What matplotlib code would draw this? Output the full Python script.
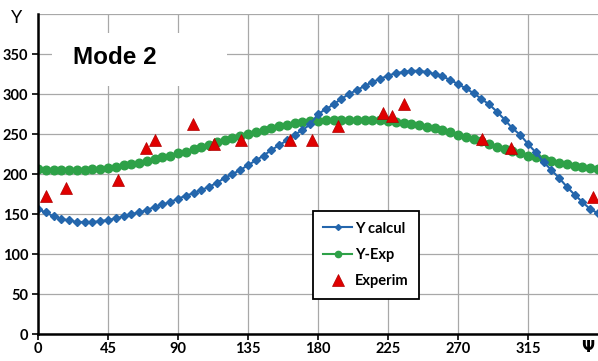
import matplotlib
matplotlib.use("Agg")
import matplotlib.pyplot as plt
from matplotlib.patches import Rectangle

plt.rcParams['font.family'] = ['Lato', 'DejaVu Sans']

psi = list(range(0, 365, 5))
y_calcul = [156, 152, 147, 144, 142, 140, 140, 140, 141, 142.5, 144.5, 147, 150, 152, 155,
            159, 162, 165, 169, 173, 176, 180, 184, 189, 195, 200, 205, 211, 217, 223, 230,
            236, 242, 249, 255, 262, 275, 281, 287, 294, 300, 305, 310, 315, 319, 323, 326,
            327.5, 329, 329, 327.5, 325, 322, 317.5, 312.5, 307, 301, 294, 287, 278, 268,
            257, 249, 237.5, 227, 215, 205, 195, 184, 174, 165, 156, 151]
y_exp = [206, 205.4, 205, 204.6, 204.6, 205, 205.4, 206, 206.7, 207.5, 209, 211, 212.5, 214,
         216, 219, 221, 223, 226, 228, 231, 234, 236.7, 239.6, 242.5, 245, 248, 250.4, 253,
         255, 257.5, 259.6, 261.7, 263.3, 264.6, 265.8, 266.7, 267, 267.5, 267.6, 268, 268,
         267.6, 267.5, 267, 266, 265, 263.5, 262.5, 261, 259, 257, 254.6, 252, 249, 246.7,
         243.8, 240.8, 237.5, 234, 231.7, 228.7, 225.8, 223, 220.8, 218.7, 216, 214, 212,
         210.4, 209, 208, 206.7]
exp_psi = [4.9, 18, 51.4, 69.6, 75.2, 99.9, 113, 130.3, 162, 176.4, 192.7, 222, 227.4,
           235.5, 285.6, 303.9, 357]
exp_y = [172.5, 183, 192.5, 233, 243, 263, 238, 242.5, 242.5, 242.5, 260.4, 276.7, 272.5,
         287, 243.7, 233, 171]

x_ticks = [0, 45, 90, 135, 180, 225, 270, 315]
y_ticks = [0, 50, 100, 150, 200, 250, 300, 350]

fig = plt.figure(figsize=(5.98, 3.61), dpi=100)
ax = fig.add_axes([38/598, 1-334/361, 560/598, 320/361])

blue = '#2466AC'
green = '#2EA148'
red = '#E00000'

ax.plot(psi, y_calcul, color=blue, marker='D', markersize=4.5, lw=1.5, label='Y calcul',
        zorder=4)
ax.plot(psi, y_exp, color=green, marker='o', markersize=6.2, lw=1.5, label='Y-Exp', zorder=3)
ax.plot(exp_psi, exp_y, linestyle='none', marker='^', markersize=8.5, color=red,
        markeredgecolor='#B00000', markeredgewidth=0.5, label='Experim', zorder=5)

ax.set_xlim(0, 360)
ax.set_ylim(0, 400)
ax.set_xticks(x_ticks)
ax.set_yticks(y_ticks)
ax.set_yticks([400], minor=True)
ax.grid(True, which='both', color='#A8A8A8', lw=0.9, zorder=0)
ax.tick_params(which='minor', length=0)
ax.set_axisbelow(True)
for s in ['top', 'right']:
    ax.spines[s].set_visible(False)
for s in ['left', 'bottom']:
    ax.spines[s].set_linewidth(1.8)
    ax.spines[s].set_color('black')
    ax.spines[s].set_zorder(6)
ax.tick_params(axis='both', which='major', direction='out', length=4, width=1.2,
               labelsize=10.5, pad=3)
ax.tick_params(axis='x', pad=2)
for lbl in ax.get_xticklabels() + ax.get_yticklabels():
    lbl.set_fontweight('bold')

# white box behind "Mode 2"
ax.add_patch(Rectangle((0.025, 0.775), 0.3125, 0.165, transform=ax.transAxes,
                       facecolor='white', edgecolor='none', zorder=1))
ax.text(0.137, 0.863, 'Mode 2', transform=ax.transAxes, fontsize=17.5, fontweight='bold',
        ha='center', va='center', zorder=2, family=['Liberation Sans', 'DejaVu Sans'])

fig.text(17/598, 1-18/361, 'Y', fontsize=13, ha='center', va='center')
fig.text(588/598, 1-348/361, 'Ψ', fontsize=11, fontweight='bold', ha='center', va='center',
         family=['DejaVu Sans'])

leg = ax.legend(loc='upper left', bbox_to_anchor=(0.478, 0.406), frameon=True, fancybox=False,
                framealpha=1, edgecolor='black', fontsize=10.5, handlelength=2.0,
                borderpad=0.7, labelspacing=0.85, handletextpad=0.2)
leg.get_frame().set_linewidth(1.3)
for t in leg.get_texts():
    t.set_fontweight('bold')
leg.set_zorder(7)
h = leg.legend_handles
h[0].set_markersize(3)
h[1].set_markersize(4.5)

fig.savefig('out.png', dpi=100)
